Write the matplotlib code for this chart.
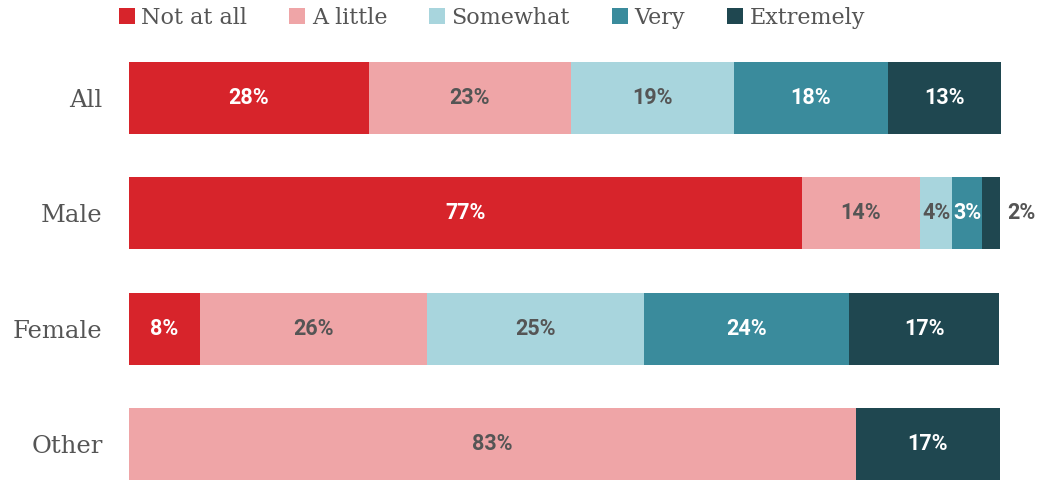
import matplotlib
matplotlib.use("Agg")
import matplotlib.pyplot as plt
from matplotlib.patches import Patch

categories = ["All", "Male", "Female", "Other"]
levels = ["Not at all", "A little", "Somewhat", "Very", "Extremely"]
not_at_all = [27.5, 77.2, 8.1, 0.0]
a_little = [23.2, 13.6, 26.1, 83.4]
somewhat = [18.7, 3.7, 24.9, 0.0]
very = [17.7, 3.4, 23.6, 0.0]
extremely = [13.0, 2.1, 17.2, 16.6]
series = [not_at_all, a_little, somewhat, very, extremely]

colors = ["#d7242b", "#efa5a7", "#a8d5dd", "#3a8b9c", "#1f4750"]
label_colors = ["white", "#555555", "#555555", "white", "white"]
text_gray = "#555555"
serif = ["DejaVu Serif"]
sans = ["Roboto", "DejaVu Sans"]

fig = plt.figure(figsize=(10.4, 4.8), dpi=100)
ax = fig.add_axes([129/1040, 0.0, (1001-129)/1040, 1 - 62/480])

h = 72/115.3
ypos = list(range(len(categories)))
left = [0.0]*len(categories)
for si, vals in enumerate(series):
    ax.barh(ypos, vals, left=left, height=h, color=colors[si], edgecolor="none")
    for i, v in enumerate(vals):
        if v > 0:
            cx = left[i] + v/2
            col = label_colors[si]
            if v < 3:
                cx = left[i] + v + 2.4
                col = text_gray
            ax.text(cx, i, f"{round(v)}%", ha="center", va="center",
                    fontsize=15.5, fontweight="bold", color=col, family=sans)
        left[i] += vals[i]

ax.set_xlim(0, sum(s[0] for s in series))
ax.set_ylim(len(categories)-1 + h/2, -h/2)
ax.set_yticks(ypos)
ax.set_yticklabels(categories, family=serif, fontsize=17.5, color=text_gray)
ax.tick_params(axis="y", length=0, pad=19)
ax.set_xticks([])
for s in ax.spines.values():
    s.set_visible(False)
ax.patch.set_alpha(0)

handles = [Patch(facecolor=c, edgecolor="none") for c in colors]
leg = fig.legend(handles, levels, loc="upper left", bbox_to_anchor=(119/1040, 1 - 7/480),
                 ncol=5, frameon=False, handlelength=0.7, handleheight=0.7,
                 handletextpad=0.3, columnspacing=1.9, borderpad=0, borderaxespad=0,
                 prop={"family": serif, "size": 16})
for t in leg.get_texts():
    t.set_color(text_gray)

fig.savefig("out.png", dpi=100)
